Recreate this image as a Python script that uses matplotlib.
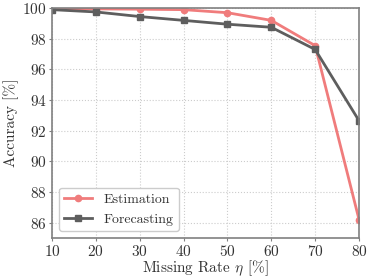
import matplotlib
matplotlib.use("Agg")
import matplotlib.pyplot as plt

plt.rcParams['font.family'] = 'serif'
plt.rcParams['font.serif'] = ['cmr10']
plt.rcParams['mathtext.fontset'] = 'cm'
plt.rcParams['axes.formatter.use_mathtext'] = True

missing_rate = [10, 20, 30, 40, 50, 60, 70, 80]
estimation = [99.95, 99.95, 99.93, 99.9, 99.7, 99.2, 97.55, 86.2]
forecasting = [99.9, 99.75, 99.45, 99.2, 98.95, 98.75, 97.3, 92.65]

fig = plt.figure(figsize=(3.74, 2.8), dpi=100)
ax = fig.add_axes([0.139, 0.15, 0.821, 0.821])

ax.plot(missing_rate, estimation, color='#f07c7c', marker='o', markersize=4.5,
        linewidth=2, label='Estimation')
ax.plot(missing_rate, forecasting, color='#5e5e5e', marker='s', markersize=4.5,
        linewidth=2, label='Forecasting')

ax.set_xlim(10, 80)
ax.set_ylim(85, 100)
ax.set_xticks(range(10, 81, 10))
ax.set_yticks(range(86, 101, 2))
ax.grid(True, linestyle=':', color='#cccccc', linewidth=0.8)
for s in ax.spines.values():
    s.set_color('#808080')
    s.set_linewidth(1.2)
ax.tick_params(labelsize=11, color='#808080', labelcolor='#333333',
               length=2, pad=2)
ax.set_xlabel(r'Missing Rate $\eta$ [%]', fontsize=11, color='#333333', labelpad=0)
ax.set_ylabel('Accuracy [%]', fontsize=11, color='#333333', labelpad=2)

leg = ax.legend(loc='lower left', fontsize=10, framealpha=1, edgecolor='#cccccc',
                borderaxespad=0.5)
for t in leg.get_texts():
    t.set_color('#333333')

fig.savefig('out.png', dpi=100)
